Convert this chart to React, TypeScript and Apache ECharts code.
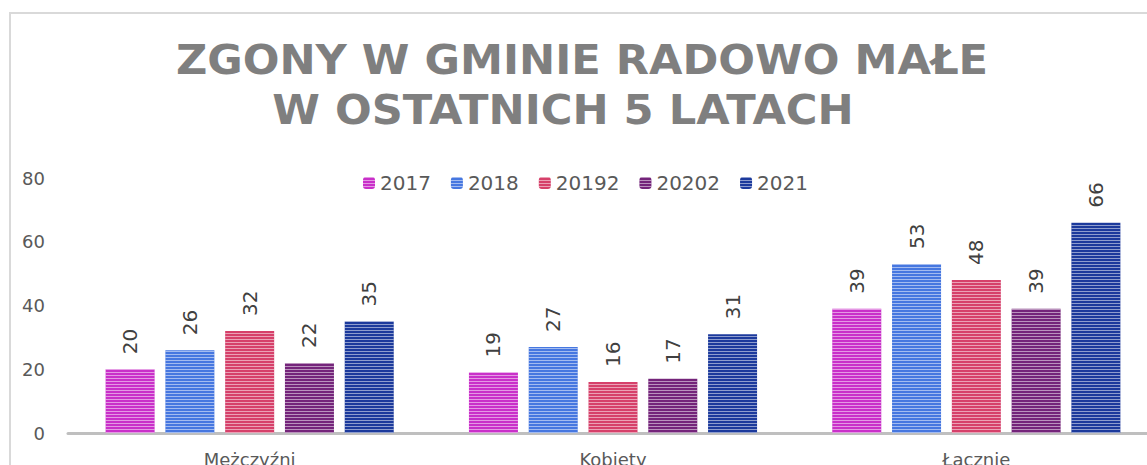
import React, { useEffect, useRef } from "react";
import * as echarts from "echarts";

const categories = ["Mężczyźni", "Kobiety", "Łącznie"];
const seriesNames = ["2017", "2018", "20192", "20202", "2021"];
const values2017 = [20, 19, 39];
const values2018 = [26, 27, 53];
const values20192 = [32, 16, 48];
const values20202 = [22, 17, 39];
const values2021 = [35, 31, 66];
const seriesValues = [values2017, values2018, values20192, values20202, values2021];
const colors = ["#C930C9", "#4677E0", "#D6406A", "#74247A", "#1C3A9C"];
const yTicks = { min: 0, max: 80, interval: 20 };
const titleLines = ["ZGONY W GMINIE RADOWO MAŁE", "W OSTATNICH 5 LATACH"];

export default function App() {
  const ref = useRef<HTMLDivElement>(null);
  useEffect(() => {
    if (!ref.current) return;
    const chart = echarts.init(ref.current, null, { renderer: "svg" });
    const font = "DejaVu Sans";
    chart.setOption({
      animation: false,
      backgroundColor: "#ffffff",
      textStyle: { fontFamily: font },
      graphic: [
        {
          type: "rect",
          shape: { x: 10, y: 13, width: 1300, height: 600 },
          style: { fill: "none", stroke: "#d9d9d9", lineWidth: 2 },
          z: 0,
        },
        {
          type: "text",
          x: 582,
          y: 60,
          scaleX: 1.08,
          style: {
            text: titleLines[0],
            fill: "#7f7f7f",
            font: `bold 40px ${font}`,
            textAlign: "center",
            textVerticalAlign: "middle",
          },
        },
        {
          type: "text",
          x: 563,
          y: 110,
          scaleX: 1.08,
          style: {
            text: titleLines[1],
            fill: "#7f7f7f",
            font: `bold 40px ${font}`,
            textAlign: "center",
            textVerticalAlign: "middle",
          },
        },
      ],
      legend: {
        data: seriesNames,
        top: 168,
        left: 358,
        itemWidth: 12,
        itemHeight: 12,
        itemGap: 20,
        textStyle: { color: "#595959", fontSize: 20, fontFamily: font },
      },
      grid: { left: 68, top: 178, width: 1090, height: 255 },
      xAxis: {
        type: "category",
        data: categories,
        axisLine: { show: true, lineStyle: { color: "#bfbfbf", width: 3 } },
        axisTick: { show: false },
        axisLabel: { color: "#595959", fontSize: 18, margin: 17 },
      },
      yAxis: {
        type: "value",
        min: yTicks.min,
        max: yTicks.max,
        interval: yTicks.interval,
        axisLine: { show: false },
        axisTick: { show: false },
        splitLine: { show: false },
        axisLabel: { color: "#595959", fontSize: 18, margin: 23 },
      },
      series: seriesNames.map((name, i) => ({
        name,
        type: "bar",
        data: seriesValues[i],
        barWidth: 49,
        barGap: "22%",
        itemStyle: {
          color: colors[i],
          decal: {
            symbol: "rect",
            symbolSize: 1,
            dashArrayX: [1, 0],
            dashArrayY: [1, 2],
            rotation: 0,
            color: "rgba(255,255,255,0.5)",
          },
        },
        label: {
          show: true,
          position: "top",
          rotate: 90,
          align: "left",
          verticalAlign: "middle",
          distance: 15,
          color: "#404040",
          fontSize: 20,
          fontFamily: font,
        },
      })),
    });
    return () => chart.dispose();
  }, []);
  return (
    <div
      style={{
        position: "fixed",
        left: 0,
        top: 0,
        width: 1147,
        height: 465,
        overflow: "hidden",
        background: "#fff",
      }}
    >
      <div ref={ref} style={{ width: 1190, height: 500 }} />
    </div>
  );
}
